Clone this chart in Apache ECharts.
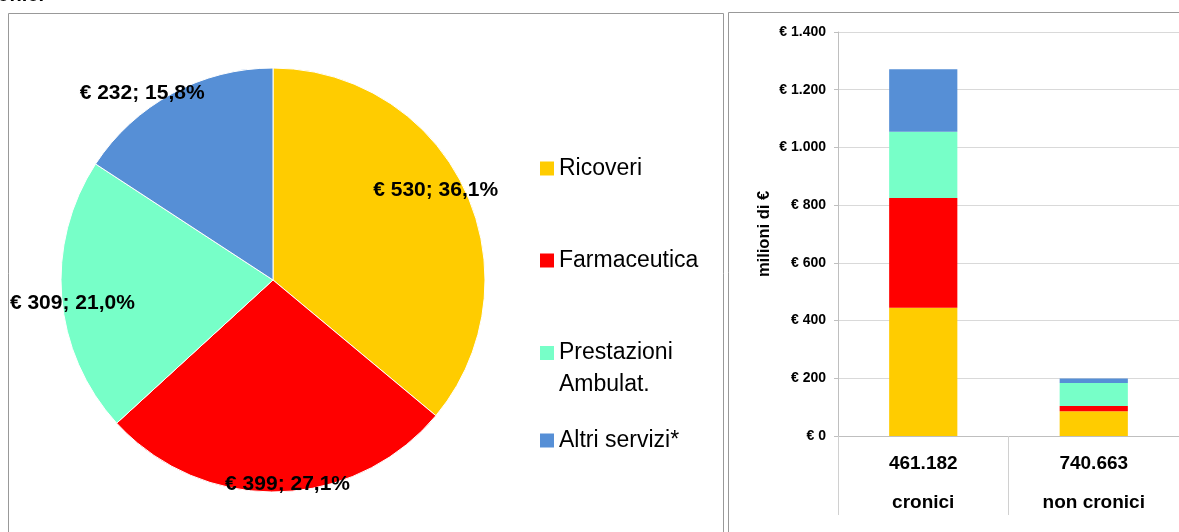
<!DOCTYPE html>
<html>
<head>
<meta charset="utf-8">
<script src="https://cdn.jsdelivr.net/npm/echarts@6/dist/echarts.min.js"></script>
<style>
  html, body { margin: 0; padding: 0; background: #fff; }
  #chart { width: 1179px; height: 532px; }
</style>
</head>
<body>
<div id="chart"></div>
<script>
// --- data ---
var categories = ['Ricoveri', 'Farmaceutica', 'Prestazioni Ambulat.', 'Altri servizi*'];
var colors = ['#FFCC00', '#FF0000', '#77FFC8', '#568FD6'];
var pieValues = [530, 399, 309, 232];
var piePercents = ['36,1%', '27,1%', '21,0%', '15,8%'];
var groups = ['cronici', 'non cronici'];
var groupCounts = ['461.182', '740.663'];
var croniciValues = [444, 381, 229, 217];
var nonCroniciValues = [86, 18, 80, 15];
var yTicks = { min: 0, max: 1400, interval: 200 };

// label nudges from the inner radius (Excel "best fit" placement)
var labelOffsets = [[64, -44], [12, 95], [-92, 14], [-79, -91]];
var legendTops = [152, 244, 311, 424];

var font = 'Liberation Sans, Arial, sans-serif';
var chart = echarts.init(document.getElementById('chart'), null, { renderer: 'canvas' });

function euro(v) {
  return '€ ' + String(v).replace(/\B(?=(\d{3})+(?!\d))/g, '.');
}

var pieData = categories.map(function(name, i) {
  return {
    name: name,
    value: pieValues[i],
    itemStyle: { color: colors[i] },
    label: { offset: labelOffsets[i] }
  };
});

var barSeries = categories.map(function(name, i) {
  return {
    name: name,
    type: 'bar',
    stack: 'tot',
    barWidth: '40%',
    itemStyle: { color: colors[i] },
    data: [croniciValues[i], nonCroniciValues[i]]
  };
});

// one legend per entry so each sits where Excel put it
var legends = categories.map(function(name, i) {
  return {
    data: [name],
    orient: 'vertical',
    left: 535,
    top: legendTops[i],
    icon: 'rect',
    itemWidth: 14,
    itemHeight: 14,
    formatter: function(n) {
      // blank first line keeps the marker level with "Prestazioni"
      if (n === 'Prestazioni Ambulat.') return '{s| }\n{a|Prestazioni}\n{a|Ambulat.}';
      return '{a|' + n + '}';
    },
    textStyle: {
      rich: {
        a: { fontFamily: font, fontSize: 23, color: '#000', lineHeight: 32 },
        s: { fontSize: 10, lineHeight: 32 }
      }
    }
  };
});

var option = {
  animation: false,
  backgroundColor: '#fff',
  legend: legends,
  graphic: [
    { type: 'rect', shape: { x: 8.5, y: 13.5, width: 715, height: 540 },
      style: { fill: 'none', stroke: '#999', lineWidth: 1 } },
    { type: 'rect', shape: { x: 728.5, y: 12.5, width: 470, height: 540 },
      style: { fill: 'none', stroke: '#999', lineWidth: 1 } },
    { type: 'text', x: 44, y: 5,
      style: { text: 'cronici', fill: '#000', font: 'bold 20px ' + font,
               textAlign: 'right', textVerticalAlign: 'bottom' } }
  ],
  grid: { left: 838, top: 32, width: 344, height: 404 },
  xAxis: {
    type: 'category',
    data: groups,
    axisLine: { lineStyle: { color: '#bfbfbf' } },
    axisTick: { show: true, length: 79, lineStyle: { color: '#d0d0d0' } },
    axisLabel: {
      margin: 8,
      formatter: function(v, idx) { return '{a|' + groupCounts[idx] + '}\n{a|' + v + '}'; },
      rich: { a: { fontFamily: font, fontWeight: 'bold', fontSize: 19, color: '#000', lineHeight: 39 } }
    }
  },
  yAxis: {
    type: 'value',
    min: yTicks.min,
    max: yTicks.max,
    interval: yTicks.interval,
    name: 'milioni di €',
    nameLocation: 'middle',
    nameGap: 65,
    nameRotate: 90,
    nameTextStyle: { fontFamily: font, fontWeight: 'bold', fontSize: 16.5, color: '#000' },
    axisLine: { show: true, lineStyle: { color: '#bfbfbf' } },
    axisTick: { show: true, length: 4, lineStyle: { color: '#bfbfbf' } },
    splitLine: { lineStyle: { color: '#d9d9d9' } },
    axisLabel: {
      margin: 12,
      formatter: euro,
      fontFamily: font, fontWeight: 'bold', fontSize: 14, color: '#000'
    }
  },
  series: [{
    type: 'pie',
    center: [273, 280],
    radius: 212,
    startAngle: 90,
    clockwise: true,
    avoidLabelOverlap: false,
    itemStyle: { borderColor: '#fff', borderWidth: 1 },
    label: {
      position: 'inside',
      formatter: function(p) { return '€ ' + p.value + '; ' + piePercents[p.dataIndex]; },
      fontFamily: font,
      fontWeight: 'bold',
      fontSize: 21,
      color: '#000'
    },
    labelLine: { show: false },
    emphasis: { disabled: true },
    data: pieData
  }].concat(barSeries)
};

chart.setOption(option);
window.addEventListener('resize', function() { chart.resize(); });
</script>
</body>
</html>
